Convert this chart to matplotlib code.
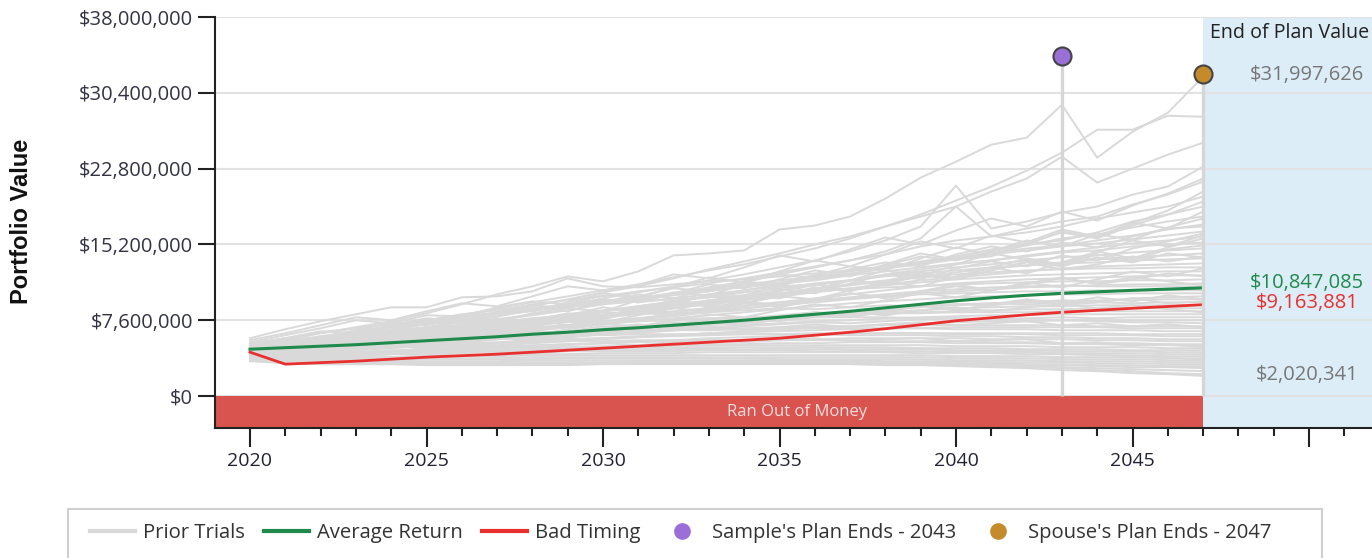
import matplotlib
matplotlib.use("Agg")
import matplotlib.pyplot as plt
from matplotlib.lines import Line2D
from matplotlib.patches import Rectangle
from matplotlib.ticker import FixedLocator, MultipleLocator
import matplotlib.transforms as mtrans

# ---------------- data (values in millions of dollars) ----------------
years = list(range(2020, 2048))

average_return = [4.70, 4.85, 5.00, 5.15, 5.35, 5.55, 5.75, 5.95, 6.20, 6.40, 6.65, 6.85, 7.10, 7.35,
                  7.60, 7.90, 8.20, 8.50, 8.85, 9.20, 9.55, 9.85, 10.10, 10.30, 10.45, 10.60, 10.72, 10.847085]
bad_timing = [4.40, 3.20, 3.35, 3.50, 3.70, 3.90, 4.05, 4.20, 4.40, 4.60, 4.80, 5.00, 5.20, 5.40,
              5.60, 5.80, 6.10, 6.40, 6.75, 7.15, 7.55, 7.85, 8.15, 8.40, 8.60, 8.80, 8.98, 9.163881]

prior_trials = [
    [5.0, 5.6, 6.3, 6.9, 7.5, 8.3, 9.2, 10.2, 11.0, 12.0, 11.5, 12.5, 14.1, 14.3, 14.6, 16.7, 17.1, 18.0, 19.8, 21.9, 23.5, 25.2, 25.9, 29.2, 23.9, 26.5, 28.4, 31.997626],
    [4.9, 5.4, 5.9, 6.5, 7.0, 7.6, 8.1, 8.8, 9.4, 10.0, 10.6, 11.2, 11.9, 12.6, 13.2, 14.0, 14.8, 15.8, 17.0, 18.2, 19.6, 21.0, 22.6, 24.4, 26.7, 26.7, 28.1, 28.0],
    [4.8, 5.2, 5.7, 6.2, 6.7, 7.3, 7.8, 8.4, 9.0, 9.7, 10.4, 11.0, 11.8, 12.7, 13.5, 14.3, 15.2, 16.0, 17.0, 18.0, 19.0, 20.5, 21.8, 24.0, 21.4, 22.8, 24.2, 25.4],
    [4.6, 5.0, 5.5, 6.0, 6.4, 6.9, 7.5, 8.0, 8.6, 9.1, 9.8, 10.4, 11.0, 11.6, 12.2, 12.9, 13.6, 14.5, 15.6, 17.0, 21.1, 16.8, 17.5, 18.4, 19.0, 20.2, 21.0, 23.0],
    [4.5, 4.9, 5.3, 5.7, 6.2, 6.6, 7.1, 7.6, 8.1, 8.6, 9.2, 9.7, 10.3, 10.9, 11.5, 12.2, 12.9, 13.6, 14.5, 15.8, 19.0, 16.0, 16.4, 17.0, 17.8, 18.4, 19.0, 20.0],
    [5.2, 5.8, 6.4, 6.8, 7.2, 7.6, 8.2, 8.6, 9.2, 9.6, 10.0, 10.5, 10.9, 11.3, 11.8, 12.4, 13.0, 13.6, 14.2, 15.0, 15.6, 16.0, 16.8, 17.5, 18.0, 19.2, 20.2, 21.5],
    [4.3, 4.8, 5.4, 6.0, 6.3, 6.9, 7.4, 7.7, 8.2, 8.9, 9.3, 9.6, 10.1, 10.5, 11.0, 11.4, 11.9, 12.3, 12.8, 13.5, 14.0, 14.7, 15.2, 15.6, 16.4, 17.5, 18.2, 19.0],
    [4.7, 5.1, 5.6, 6.1, 6.6, 7.2, 7.5, 8.0, 8.6, 9.0, 9.5, 9.9, 10.3, 10.8, 11.2, 11.6, 12.0, 12.5, 13.0, 13.4, 13.9, 14.5, 15.1, 15.8, 16.2, 16.9, 17.5, 18.0],
    [4.4, 4.7, 5.1, 5.5, 5.9, 6.4, 6.8, 7.3, 7.6, 8.1, 8.5, 9.0, 9.5, 10.0, 10.6, 11.2, 11.7, 12.2, 12.8, 13.2, 13.7, 14.3, 14.8, 15.1, 15.6, 16.1, 16.7, 17.2],
    [5.8, 6.7, 7.5, 8.2, 8.9, 8.9, 9.9, 10.0, 10.5, 11.8, 11.0, 10.9, 11.2, 11.5, 11.7, 12.0, 12.3, 12.6, 13.0, 13.3, 13.8, 14.2, 14.6, 15.0, 15.3, 15.7, 16.1, 16.5],
    [4.2, 4.5, 4.9, 5.2, 5.6, 6.0, 6.4, 6.8, 7.3, 7.7, 8.2, 8.6, 9.1, 9.6, 10.1, 10.6, 11.1, 11.6, 12.2, 12.7, 13.2, 13.6, 14.1, 14.5, 14.9, 15.3, 15.6, 16.0],
    [4.9, 5.3, 5.8, 6.4, 6.9, 7.3, 7.7, 8.2, 8.5, 9.1, 9.5, 9.8, 10.3, 10.6, 10.9, 11.3, 11.6, 12.1, 12.5, 12.9, 13.3, 13.6, 14.0, 14.4, 14.6, 15.0, 15.2, 15.4],
    [4.6, 4.9, 5.3, 5.7, 6.1, 6.5, 6.9, 7.4, 7.7, 8.2, 8.6, 9.0, 9.5, 9.9, 10.4, 10.8, 11.3, 11.6, 12.1, 12.5, 12.9, 13.2, 13.6, 13.9, 14.1, 14.4, 14.6, 14.8],
    [4.0, 4.3, 4.7, 5.0, 5.4, 5.8, 6.2, 6.6, 7.0, 7.5, 7.9, 8.4, 8.8, 9.3, 9.8, 10.2, 10.7, 11.2, 11.6, 12.0, 12.4, 12.8, 13.1, 13.4, 13.7, 13.9, 14.1, 14.3],
    [5.1, 5.5, 6.0, 6.5, 7.0, 7.4, 7.9, 8.4, 8.8, 9.2, 9.7, 9.4, 9.8, 10.2, 10.6, 11.0, 11.2, 11.6, 12.0, 12.3, 12.6, 12.9, 13.1, 13.3, 13.4, 13.6, 13.7, 13.8],
    [4.5, 4.8, 5.2, 5.5, 5.8, 6.2, 6.6, 6.9, 7.3, 7.6, 8.0, 8.4, 8.8, 9.2, 9.6, 10.0, 10.4, 10.8, 11.2, 11.6, 11.9, 12.2, 12.5, 12.8, 13.0, 13.1, 13.2, 13.3],
    [4.3, 4.6, 5.0, 5.4, 5.7, 6.0, 6.4, 6.8, 7.2, 7.7, 8.1, 8.5, 9.0, 9.4, 9.9, 10.3, 10.7, 11.1, 11.5, 11.9, 12.2, 12.4, 12.6, 12.7, 12.8, 12.8, 12.9, 12.9],
    [4.8, 5.2, 5.6, 6.0, 6.4, 6.7, 7.1, 7.4, 7.8, 8.1, 8.5, 8.8, 9.2, 9.5, 9.9, 10.2, 10.5, 10.8, 11.1, 11.4, 11.7, 11.9, 12.1, 12.2, 12.3, 12.4, 12.5, 12.5],
    [4.1, 4.4, 4.7, 5.0, 5.3, 5.6, 6.0, 6.3, 6.7, 7.0, 7.4, 7.8, 8.2, 8.6, 9.0, 9.4, 9.8, 10.2, 10.6, 11.0, 11.3, 11.5, 11.7, 11.8, 11.9, 12.0, 12.1, 12.1],
    [5.3, 5.8, 6.3, 6.8, 7.2, 7.6, 8.0, 8.3, 8.7, 9.0, 9.2, 9.5, 9.7, 9.9, 10.1, 10.3, 10.5, 10.7, 10.9, 11.0, 11.2, 11.3, 11.4, 11.5, 11.5, 11.6, 11.6, 11.7],
    [4.4, 4.7, 5.0, 5.3, 5.6, 5.9, 6.2, 6.5, 6.8, 7.1, 7.5, 7.8, 8.1, 8.5, 8.8, 9.1, 9.4, 9.7, 10.0, 10.3, 10.5, 10.7, 10.9, 11.0, 11.1, 11.2, 11.2, 11.3],
    [3.9, 4.2, 4.5, 4.8, 5.1, 5.4, 5.7, 6.1, 6.5, 6.9, 7.3, 7.7, 8.0, 8.4, 8.8, 9.2, 9.6, 9.9, 10.2, 10.5, 10.7, 10.9, 11.0, 11.1, 11.0, 11.0, 11.0, 11.0],
    [4.7, 5.0, 5.4, 5.8, 6.1, 6.4, 6.7, 7.0, 7.3, 7.6, 7.9, 8.2, 8.5, 8.8, 9.1, 9.4, 9.6, 9.8, 10.0, 10.2, 10.3, 10.4, 10.5, 10.5, 10.6, 10.6, 10.6, 10.6],
    [4.2, 4.5, 4.8, 5.1, 5.4, 5.7, 6.0, 6.3, 6.6, 6.9, 7.2, 7.5, 7.8, 8.1, 8.4, 8.7, 9.0, 9.3, 9.5, 9.7, 9.9, 10.0, 10.1, 10.2, 10.2, 10.3, 10.3, 10.3],
    [4.6, 4.4, 4.7, 5.1, 5.0, 5.4, 5.8, 6.0, 6.4, 6.3, 6.7, 7.0, 7.4, 7.3, 7.7, 8.1, 8.4, 8.3, 8.7, 9.0, 9.2, 9.1, 9.4, 9.6, 9.5, 9.8, 9.9, 10.0],
    [3.8, 4.1, 4.3, 4.6, 4.9, 5.1, 5.4, 5.7, 6.0, 6.3, 6.6, 6.9, 7.1, 7.4, 7.7, 7.9, 8.2, 8.4, 8.7, 8.9, 9.1, 9.3, 9.4, 9.5, 9.6, 9.6, 9.7, 9.7],
    [5.0, 5.4, 5.7, 6.1, 6.6, 6.9, 7.1, 7.4, 7.6, 7.9, 8.1, 8.3, 8.2, 8.4, 8.6, 8.8, 8.7, 8.9, 9.1, 9.0, 9.2, 9.3, 9.2, 9.3, 9.4, 9.3, 9.4, 9.4],
    [4.3, 4.5, 4.8, 5.0, 5.3, 5.5, 5.7, 6.0, 6.2, 6.5, 6.7, 7.0, 7.2, 7.4, 7.7, 7.9, 8.1, 8.3, 8.5, 8.6, 8.8, 8.9, 9.0, 9.0, 9.1, 9.1, 9.1, 9.1],
    [3.6, 3.8, 4.0, 4.3, 4.5, 4.8, 5.0, 5.3, 5.6, 5.9, 6.2, 6.5, 6.8, 7.1, 7.4, 7.6, 7.9, 8.1, 8.3, 8.4, 8.5, 8.6, 8.7, 8.7, 8.8, 8.8, 8.8, 8.8],
    [4.9, 5.2, 5.5, 5.7, 6.0, 6.2, 6.5, 6.7, 6.9, 7.1, 7.3, 7.5, 7.6, 7.8, 7.9, 8.0, 8.1, 8.2, 8.3, 8.3, 8.4, 8.4, 8.4, 8.5, 8.5, 8.5, 8.5, 8.5],
    [4.1, 4.3, 4.6, 4.8, 5.0, 5.2, 5.4, 5.7, 5.9, 6.1, 6.3, 6.5, 6.7, 6.9, 7.1, 7.3, 7.5, 7.6, 7.8, 7.9, 8.0, 8.1, 8.1, 8.2, 8.2, 8.2, 8.2, 8.2],
    [4.5, 4.3, 4.6, 4.9, 5.2, 5.1, 5.4, 5.7, 6.0, 5.9, 6.2, 6.5, 6.8, 6.7, 7.0, 7.2, 7.4, 7.3, 7.5, 7.7, 7.8, 7.7, 7.8, 7.9, 7.8, 7.9, 7.9, 7.9],
    [3.7, 3.9, 4.1, 4.3, 4.5, 4.7, 4.9, 5.1, 5.3, 5.5, 5.7, 5.9, 6.1, 6.3, 6.5, 6.7, 6.9, 7.0, 7.2, 7.3, 7.4, 7.5, 7.5, 7.6, 7.6, 7.6, 7.6, 7.6],
    [5.2, 5.5, 5.9, 6.2, 6.5, 6.7, 6.9, 7.1, 7.2, 7.4, 7.5, 7.6, 7.7, 7.8, 7.8, 7.9, 7.9, 7.9, 7.9, 7.8, 7.8, 7.7, 7.6, 7.6, 7.5, 7.4, 7.4, 7.3],
    [4.4, 4.6, 4.8, 5.0, 5.2, 5.4, 5.6, 5.8, 6.0, 6.2, 6.3, 6.5, 6.6, 6.7, 6.8, 6.9, 7.0, 7.0, 7.1, 7.1, 7.1, 7.1, 7.1, 7.1, 7.0, 7.0, 7.0, 7.0],
    [4.0, 4.2, 4.4, 4.6, 4.8, 5.0, 5.1, 5.3, 5.5, 5.7, 5.8, 6.0, 6.1, 6.3, 6.4, 6.5, 6.6, 6.7, 6.8, 6.8, 6.9, 6.9, 6.9, 6.9, 6.9, 6.8, 6.8, 6.8],
    [4.7, 4.9, 5.2, 5.4, 5.6, 5.8, 5.9, 6.1, 6.2, 6.3, 6.4, 6.5, 6.6, 6.6, 6.7, 6.7, 6.8, 6.8, 6.8, 6.8, 6.7, 6.7, 6.7, 6.6, 6.6, 6.6, 6.5, 6.5],
    [3.5, 3.7, 3.9, 4.1, 4.3, 4.5, 4.6, 4.8, 5.0, 5.2, 5.3, 5.5, 5.6, 5.8, 5.9, 6.0, 6.1, 6.2, 6.3, 6.3, 6.3, 6.3, 6.3, 6.3, 6.3, 6.2, 6.2, 6.2],
    [4.2, 4.4, 4.6, 4.8, 5.0, 5.1, 5.3, 5.4, 5.6, 5.7, 5.8, 5.9, 6.0, 6.1, 6.2, 6.2, 6.3, 6.3, 6.3, 6.3, 6.2, 6.2, 6.2, 6.1, 6.1, 6.1, 6.0, 6.0],
    [4.8, 5.0, 5.2, 5.4, 5.6, 5.7, 5.8, 5.9, 6.0, 6.1, 6.1, 6.2, 6.2, 6.2, 6.2, 6.2, 6.2, 6.1, 6.1, 6.1, 6.0, 6.0, 5.9, 5.9, 5.8, 5.8, 5.7, 5.7],
    [3.9, 4.0, 4.2, 4.4, 4.5, 4.7, 4.8, 5.0, 5.1, 5.2, 5.3, 5.4, 5.5, 5.6, 5.6, 5.7, 5.7, 5.8, 5.8, 5.8, 5.8, 5.7, 5.7, 5.7, 5.6, 5.6, 5.5, 5.5],
    [4.5, 4.6, 4.8, 4.9, 5.0, 5.1, 5.2, 5.3, 5.4, 5.5, 5.5, 5.6, 5.6, 5.6, 5.6, 5.6, 5.6, 5.6, 5.5, 5.5, 5.5, 5.4, 5.4, 5.3, 5.3, 5.3, 5.2, 5.2],
    [3.6, 3.7, 3.9, 4.0, 4.2, 4.3, 4.4, 4.6, 4.7, 4.8, 4.9, 5.0, 5.1, 5.2, 5.2, 5.3, 5.3, 5.4, 5.4, 5.4, 5.3, 5.3, 5.3, 5.2, 5.2, 5.1, 5.1, 5.0],
    [4.1, 4.2, 4.3, 4.4, 4.5, 4.6, 4.7, 4.8, 4.9, 4.9, 5.0, 5.0, 5.1, 5.1, 5.1, 5.1, 5.1, 5.1, 5.1, 5.1, 5.0, 5.0, 5.0, 4.9, 4.9, 4.9, 4.8, 4.8],
    [4.3, 4.0, 4.1, 4.2, 4.4, 4.5, 4.5, 4.6, 4.7, 4.7, 4.8, 4.8, 4.9, 4.9, 4.9, 4.9, 4.9, 4.9, 4.9, 4.8, 4.8, 4.8, 4.7, 4.7, 4.7, 4.6, 4.6, 4.6],
    [3.8, 3.9, 4.0, 4.1, 4.2, 4.3, 4.4, 4.4, 4.5, 4.6, 4.6, 4.7, 4.7, 4.7, 4.7, 4.7, 4.7, 4.7, 4.7, 4.7, 4.6, 4.6, 4.6, 4.5, 4.5, 4.5, 4.4, 4.4],
    [4.6, 4.2, 4.1, 4.2, 4.3, 4.3, 4.4, 4.4, 4.5, 4.5, 4.5, 4.5, 4.5, 4.6, 4.6, 4.6, 4.5, 4.5, 4.5, 4.5, 4.4, 4.4, 4.4, 4.3, 4.3, 4.3, 4.2, 4.2],
    [3.5, 3.6, 3.7, 3.8, 3.9, 4.0, 4.0, 4.1, 4.2, 4.2, 4.3, 4.3, 4.3, 4.4, 4.4, 4.4, 4.4, 4.4, 4.4, 4.3, 4.3, 4.3, 4.2, 4.2, 4.1, 4.1, 4.0, 4.0],
    [4.0, 3.8, 3.8, 3.9, 3.9, 4.0, 4.0, 4.0, 4.1, 4.1, 4.1, 4.1, 4.1, 4.1, 4.1, 4.1, 4.1, 4.1, 4.1, 4.1, 4.0, 4.0, 4.0, 3.9, 3.9, 3.9, 3.8, 3.8],
    [3.7, 3.6, 3.6, 3.7, 3.7, 3.8, 3.8, 3.8, 3.9, 3.9, 3.9, 3.9, 3.9, 3.9, 3.9, 3.9, 3.9, 3.9, 3.9, 3.9, 3.8, 3.8, 3.8, 3.7, 3.7, 3.7, 3.6, 3.6],
    [4.2, 3.8, 3.6, 3.6, 3.6, 3.7, 3.7, 3.7, 3.7, 3.8, 3.8, 3.8, 3.8, 3.8, 3.8, 3.7, 3.7, 3.7, 3.7, 3.7, 3.6, 3.6, 3.6, 3.5, 3.5, 3.5, 3.4, 3.4],
    [3.6, 3.4, 3.4, 3.5, 3.5, 3.5, 3.5, 3.5, 3.6, 3.6, 3.6, 3.6, 3.6, 3.6, 3.6, 3.6, 3.6, 3.6, 3.5, 3.5, 3.5, 3.4, 3.4, 3.4, 3.3, 3.3, 3.2, 3.2],
    [3.9, 3.5, 3.4, 3.4, 3.4, 3.4, 3.4, 3.4, 3.4, 3.4, 3.4, 3.4, 3.4, 3.4, 3.4, 3.4, 3.4, 3.4, 3.4, 3.4, 3.3, 3.3, 3.2, 3.2, 3.1, 3.1, 3.0, 3.0],
    [3.5, 3.3, 3.3, 3.3, 3.3, 3.3, 3.3, 3.3, 3.3, 3.3, 3.3, 3.3, 3.4, 3.4, 3.4, 3.4, 3.4, 3.4, 3.3, 3.3, 3.3, 3.2, 3.1, 3.1, 3.0, 2.9, 2.9, 2.8],
    [3.8, 3.4, 3.3, 3.3, 3.3, 3.3, 3.3, 3.3, 3.3, 3.3, 3.3, 3.4, 3.4, 3.4, 3.4, 3.4, 3.5, 3.4, 3.4, 3.3, 3.2, 3.1, 3.0, 2.9, 2.8, 2.7, 2.6, 2.5],
    [3.6, 3.3, 3.2, 3.2, 3.2, 3.2, 3.2, 3.2, 3.2, 3.2, 3.3, 3.3, 3.3, 3.3, 3.3, 3.3, 3.3, 3.3, 3.2, 3.2, 3.1, 3.0, 2.9, 2.8, 2.6, 2.5, 2.3, 2.2],
    [3.7, 3.3, 3.2, 3.2, 3.2, 3.1, 3.1, 3.1, 3.1, 3.1, 3.2, 3.2, 3.2, 3.2, 3.2, 3.2, 3.2, 3.2, 3.1, 3.1, 3.0, 2.9, 2.8, 2.6, 2.5, 2.3, 2.2, 2.020341],
    [4.8, 5.5, 5.2, 6.0, 6.6, 6.2, 7.0, 7.8, 7.3, 8.1, 8.9, 8.4, 9.3, 10.1, 9.6, 10.5, 11.2, 10.6, 11.5, 12.4, 11.8, 12.6, 13.4, 12.7, 13.2, 14.0, 13.5, 14.0],
    [4.4, 4.9, 5.6, 5.3, 5.9, 6.6, 6.2, 6.9, 7.6, 7.1, 7.8, 8.5, 8.0, 8.7, 9.4, 8.9, 9.6, 10.3, 9.8, 10.5, 11.2, 10.6, 11.3, 11.9, 11.2, 11.7, 12.3, 12.0],
    [4.1, 4.6, 4.4, 5.0, 5.4, 5.1, 5.7, 6.2, 5.9, 6.5, 7.0, 6.6, 7.2, 7.7, 7.3, 7.9, 8.4, 8.0, 8.6, 9.1, 8.6, 9.1, 9.6, 9.1, 9.4, 9.8, 9.3, 9.5],
    [4.6, 5.1, 5.9, 6.3, 6.1, 6.8, 7.6, 7.4, 8.3, 8.8, 8.5, 9.6, 10.4, 10.1, 11.2, 11.0, 12.1, 13.0, 12.6, 13.8, 14.9, 14.2, 15.3, 16.4, 15.8, 17.1, 18.2, 19.5],
    [5.0, 5.6, 5.4, 6.2, 6.9, 7.5, 7.2, 8.0, 8.8, 8.5, 9.4, 10.2, 9.8, 10.7, 11.5, 11.1, 12.2, 12.0, 13.1, 14.0, 13.6, 14.5, 15.6, 15.0, 16.2, 15.7, 16.9, 17.8],
    [4.3, 4.8, 5.3, 5.1, 5.7, 6.3, 6.9, 6.6, 7.3, 8.0, 7.7, 8.5, 9.3, 9.0, 9.9, 10.7, 10.3, 11.3, 12.2, 11.7, 12.8, 13.5, 13.0, 14.1, 13.6, 14.8, 15.5, 16.3],
    [5.4, 6.1, 6.8, 7.6, 7.3, 8.1, 8.0, 8.9, 9.5, 9.2, 10.1, 10.0, 10.8, 10.5, 11.4, 12.2, 11.8, 12.7, 13.4, 13.0, 14.2, 15.0, 14.5, 15.4, 14.9, 16.0, 16.8, 17.0],
    [4.7, 5.2, 5.0, 5.6, 6.2, 6.0, 6.7, 7.3, 7.1, 7.8, 8.4, 8.2, 8.9, 9.6, 9.3, 10.1, 10.9, 10.5, 11.4, 12.3, 11.8, 12.9, 13.8, 13.2, 14.4, 15.6, 15.0, 16.1],
    [4.0, 4.4, 4.9, 5.4, 5.3, 5.9, 6.5, 6.3, 7.0, 7.6, 7.4, 8.1, 8.8, 8.5, 9.3, 10.0, 9.7, 10.6, 11.4, 11.0, 12.0, 12.9, 12.3, 13.4, 14.5, 13.8, 14.9, 15.8],
    [5.1, 5.8, 6.5, 6.3, 7.1, 7.8, 7.5, 8.4, 9.1, 8.8, 9.7, 9.4, 10.3, 11.2, 10.8, 11.7, 12.6, 12.1, 13.2, 14.3, 13.7, 14.0, 15.2, 16.5, 15.9, 17.3, 18.6, 20.5],
    [4.5, 4.9, 5.5, 6.0, 5.8, 6.5, 7.1, 6.9, 7.6, 8.3, 8.0, 8.8, 9.6, 9.2, 10.0, 9.8, 10.7, 11.6, 11.2, 12.1, 11.7, 12.6, 13.5, 13.0, 13.9, 13.4, 14.3, 13.9],
    [4.2, 4.6, 4.4, 4.9, 5.4, 5.2, 5.8, 6.3, 6.1, 6.7, 7.2, 7.0, 7.6, 8.2, 7.9, 8.6, 9.2, 8.9, 9.6, 10.3, 9.9, 10.6, 11.4, 10.9, 11.7, 12.5, 12.0, 12.8],
    [4.9, 5.3, 5.9, 5.7, 6.3, 6.8, 6.6, 7.2, 7.8, 7.5, 8.1, 8.6, 8.3, 8.9, 9.5, 9.1, 9.7, 10.3, 9.9, 10.5, 11.0, 10.6, 11.2, 11.8, 11.3, 11.9, 11.5, 11.1],
    [3.9, 4.3, 4.2, 4.6, 5.0, 4.9, 5.4, 5.8, 5.6, 6.1, 6.6, 6.4, 6.9, 7.4, 7.1, 7.7, 8.2, 7.9, 8.5, 9.0, 8.6, 9.2, 9.7, 9.3, 9.9, 9.5, 10.1, 9.7],
    [4.4, 4.7, 5.1, 5.0, 5.4, 5.8, 5.6, 6.1, 6.5, 6.3, 6.8, 7.2, 6.9, 7.4, 7.8, 7.5, 8.0, 8.4, 8.1, 8.6, 8.9, 8.5, 8.9, 9.2, 8.8, 9.1, 8.7, 8.4],
    [4.6, 4.9, 4.8, 5.2, 5.5, 5.3, 5.7, 6.0, 5.8, 6.2, 6.5, 6.3, 6.6, 6.9, 6.6, 6.9, 7.2, 6.9, 7.2, 7.4, 7.1, 7.3, 7.5, 7.1, 7.3, 7.0, 7.2, 6.9],
    [4.0, 4.2, 4.1, 4.4, 4.6, 4.5, 4.8, 5.0, 4.8, 5.1, 5.3, 5.1, 5.4, 5.6, 5.4, 5.6, 5.8, 5.5, 5.7, 5.8, 5.5, 5.6, 5.7, 5.3, 5.4, 5.1, 5.2, 4.9],
    [3.7, 3.9, 3.8, 4.0, 4.2, 4.1, 4.3, 4.5, 4.3, 4.5, 4.7, 4.5, 4.7, 4.8, 4.6, 4.8, 4.9, 4.6, 4.7, 4.8, 4.5, 4.5, 4.5, 4.2, 4.2, 3.9, 3.9, 3.6],
    [5.6, 6.3, 7.1, 7.9, 7.6, 8.5, 9.3, 9.0, 10.0, 11.0, 10.6, 11.1, 12.2, 11.8, 12.9, 14.1, 13.5, 14.7, 15.9, 15.2, 16.6, 17.8, 17.0, 18.5, 17.6, 19.1, 20.3, 21.8],
    [4.8, 5.3, 5.9, 6.6, 7.4, 7.1, 7.9, 8.8, 8.5, 9.4, 10.3, 9.9, 10.9, 11.9, 11.4, 12.5, 13.6, 13.0, 14.2, 15.5, 14.8, 16.1, 15.4, 16.7, 16.0, 17.4, 16.8, 18.5],
    [4.3, 4.7, 5.2, 5.8, 5.6, 6.2, 6.9, 6.6, 7.4, 8.1, 7.8, 8.7, 9.5, 9.1, 10.1, 11.0, 10.5, 11.6, 12.6, 12.0, 13.2, 14.3, 13.7, 13.1, 14.2, 13.6, 14.7, 15.1],
]

plan_end_years = [2043, 2047]
plan_end_marker_values = [34.1, 32.3]
plan_end_labels = ["Sample's Plan Ends - 2043", "Spouse's Plan Ends - 2047"]
plan_end_colors = ["#9a6fd8", "#c48a2c"]

end_values = [31.997626, 10.847085, 9.163881, 2.020341]
end_value_labels = ["$31,997,626", "$10,847,085", "$9,163,881", "$2,020,341"]
end_value_colors = ["#777777", "#1f8a4c", "#e8302f", "#777777"]
end_value_offsets = [2, 5, 1.5, 0.5]   # pixel nudges of the labels

y_ticks = [0, 7.6, 15.2, 22.8, 30.4, 38.0]
y_tick_labels = ["$0", "$7,600,000", "$15,200,000", "$22,800,000", "$30,400,000", "$38,000,000"]
x_major_ticks = [2020, 2025, 2030, 2035, 2040, 2045, 2050]
x_major_labels = ["2020", "2025", "2030", "2035", "2040", "2045", ""]

# ---------------- figure ----------------
W, H = 1372, 558
fig = plt.figure(figsize=(W / 100, H / 100), dpi=100)
ax = fig.add_axes([215 / W, 1 - 428 / H, (W - 215) / W, (428 - 17) / H])

font = "Open Sans"
gray = "#d9d9d9"
green = "#1f8a4c"
red = "#e8302f"

px_per_year = 35.3
x_min = 2020 - 35 / px_per_year
x_max = 2020 + (W - 250) / px_per_year
y_min, y_max = -3.2, 38.0
ax.set_xlim(x_min, x_max)
ax.set_ylim(y_min, y_max)

# background regions
ax.axvspan(plan_end_years[1], x_max, color="#dcedf8", zorder=0.2, lw=0)
ax.add_patch(Rectangle((x_min, y_min), plan_end_years[1] - x_min, -y_min,
                       facecolor="#d9534f", edgecolor="none", zorder=1))
ax.text((797 - 215) / (W - 215), y_min / 2, "Ran Out of Money",
        transform=mtrans.blended_transform_factory(ax.transAxes, ax.transData),
        ha="center", va="center", color="#f6dede", fontsize=12, family=font, zorder=2)

# grid
ax.set_axisbelow(True)
ax.yaxis.grid(True, color="#e2e2e2", lw=1.5)
ax.xaxis.grid(False)

# trials
for tr in prior_trials:
    ax.plot(years, tr, color=gray, lw=1.4, zorder=2)

ax.plot(years, average_return, color=green, lw=2.2, zorder=3)
ax.plot(years, bad_timing, color=red, lw=2.0, zorder=3)

# plan end stems and markers
for yr, val, col in zip(plan_end_years, plan_end_marker_values, plan_end_colors):
    ax.plot([yr, yr], [0, val], color="#d6d6d6", lw=2.4, zorder=4, solid_capstyle="butt")
    ax.plot([yr], [val], marker="o", ms=13, mfc=col, mec="#444444", mew=1.5, zorder=5, clip_on=False)

# right panel texts
ax.text(plan_end_years[1] + 0.2, 36.4, "End of Plan Value", ha="left", va="center", fontsize=14.1,
        color="#222222", family=font, zorder=6)
for val, lab, col, off in zip(end_values, end_value_labels, end_value_colors, end_value_offsets):
    ax.annotate(lab, (2049.95, val), xytext=(0, off * 0.72), textcoords="offset points",
                ha="center", va="center", fontsize=14.5, color=col, family=font, zorder=6)

# spines
for s in ["top", "right"]:
    ax.spines[s].set_visible(False)
for s in ["left", "bottom"]:
    ax.spines[s].set_color("#222222")
    ax.spines[s].set_linewidth(1.5)

# ticks
ax.set_yticks(y_ticks)
ax.set_yticklabels(y_tick_labels, family=font, fontsize=14.5, color="#333344")
ax.tick_params(axis="y", length=12, width=1.5, color="#222222", pad=4)
ax.xaxis.set_major_locator(FixedLocator(x_major_ticks))
ax.set_xticklabels(x_major_labels, family=font, fontsize=14, color="#222233")
ax.xaxis.set_minor_locator(MultipleLocator(1))
ax.tick_params(axis="x", which="major", length=14, width=1.5, color="#222222", pad=3)
ax.tick_params(axis="x", which="minor", length=6, width=1.5, color="#222222")

ax.set_ylabel("Portfolio Value", family="Liberation Sans", fontweight="bold", fontsize=17,
              color="#111111")
ax.yaxis.set_label_coords(-(215 - 33) / (W - 215), ((428 - 221) / H) / ((428 - 17) / H))

# legend frame
fig.patches.append(Rectangle((68 / W, -0.05), (1322 - 68) / W, 1 - 509 / H + 0.05,
                             transform=fig.transFigure, facecolor="white",
                             edgecolor="#cfcfcf", lw=1.5, zorder=0))
handles = [
    Line2D([], [], color=gray, lw=3),
    Line2D([], [], color=green, lw=3),
    Line2D([], [], color=red, lw=3),
    Line2D([], [], ls="none", marker="o", ms=11, mfc=plan_end_colors[0], mec=plan_end_colors[0]),
    Line2D([], [], ls="none", marker="o", ms=11, mfc=plan_end_colors[1], mec=plan_end_colors[1]),
]
labels = ["Prior Trials", "Average Return", "Bad Timing"] + plan_end_labels
fig.legend(handles, labels, loc="center", bbox_to_anchor=(681 / W, 1 - 533 / H), ncol=5,
           frameon=False, prop={"family": font, "size": 14.6}, handlelength=2.2,
           handletextpad=0.4, columnspacing=0.95, labelcolor="#333333")

fig.savefig("out.png", dpi=100)
